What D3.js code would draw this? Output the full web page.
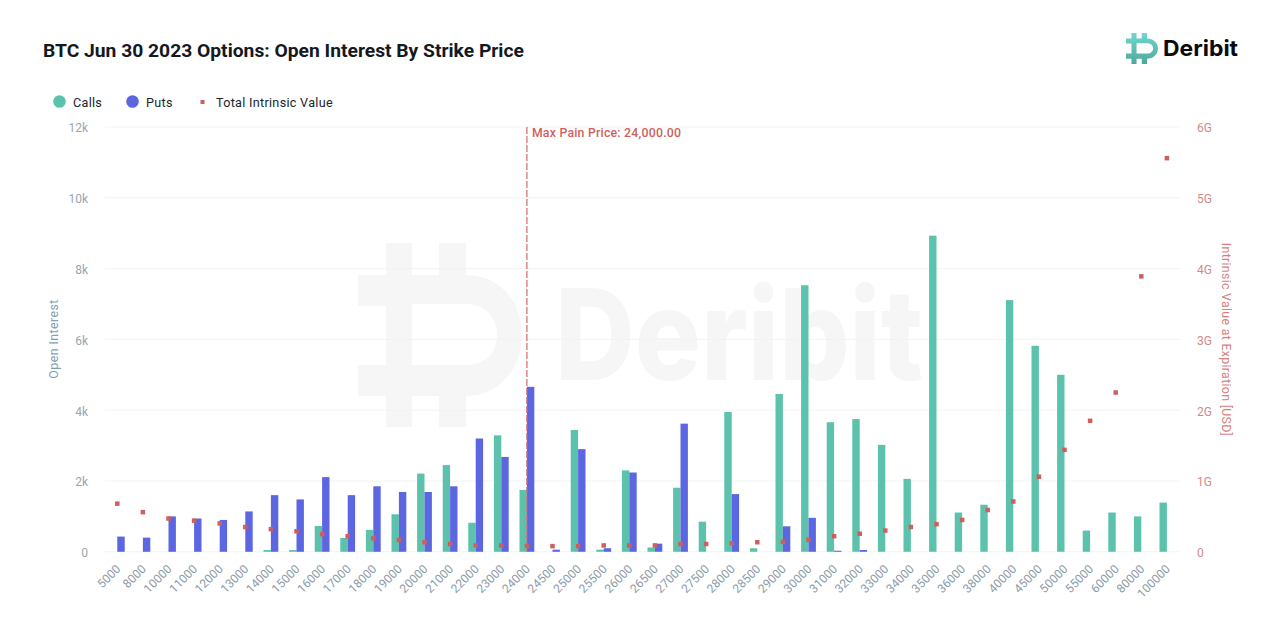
<!DOCTYPE html>
<html><head><meta charset="utf-8">
<script src="https://cdn.jsdelivr.net/npm/d3@7/dist/d3.min.js"></script>
<style>
html,body{margin:0;padding:0;background:#fff}
svg{display:block}
text{font-family:Roboto,sans-serif}
</style></head><body>
<svg id="c" width="1280" height="640"></svg>
<script>
const strikes=["5000","8000","10000","11000","12000","13000","14000","15000","16000","17000","18000","19000","20000","21000","22000","23000","24000","24500","25000","25500","26000","26500","27000","27500","28000","28500","29000","30000","31000","32000","33000","34000","35000","36000","38000","40000","45000","50000","55000","60000","80000","100000"];
const calls=[0,0,0,0,0,0,50,50,730,390,620,1060,2210,2450,820,3290,1750,0,3440,60,2300,120,1810,850,3950,100,4460,7530,3660,3750,3020,2060,8930,1110,1330,7110,5820,5000,600,1110,1000,1390];
const puts=[430,400,1000,940,900,1140,1600,1480,2110,1600,1850,1690,1690,1850,3200,2680,4660,60,2900,100,2240,230,3620,0,1630,0,720,960,30,50,0,0,0,0,0,0,0,0,0,0,0,0];
const intrinsic=[0.68,0.56,0.47,0.44,0.40,0.35,0.32,0.29,0.25,0.22,0.19,0.165,0.135,0.11,0.09,0.09,0.08,0.08,0.08,0.09,0.09,0.09,0.11,0.11,0.12,0.135,0.14,0.17,0.22,0.255,0.30,0.35,0.39,0.45,0.59,0.71,1.06,1.44,1.85,2.25,3.89,5.56];
const oiTicks=[0,2000,4000,6000,8000,10000,12000];
const ivTicks=[0,1,2,3,4,5,6];
const maxPain="24000";

const svg=d3.select("#c");
const L=104.5,R=1179.7,T=127,B=551.8;
const x=d3.scaleBand().domain(strikes).range([L,R]);
const y=d3.scaleLinear().domain([0,12000]).range([B,T]);
const y2=d3.scaleLinear().domain([0,6]).range([B,T]);
const bw=7.4;
const COL={calls:"#5cc2ab",puts:"#5b66e0",iv:"#cf5f5f"};

const defs=svg.append("defs");
const g=defs.append("linearGradient").attr("id","lg").attr("x1",0).attr("y1",0).attr("x2",0).attr("y2",1);
g.append("stop").attr("offset","0").attr("stop-color","#6fd8cf");
g.append("stop").attr("offset","1").attr("stop-color","#4fa89a");
function mark(sel,fill){
  sel.append("path").attr("fill",fill).attr("fill-rule","evenodd").attr("d",
   "M28 0h26v32h27V0h27v32c33 0 56 26 56 60s-23 61-56 61v31H81v-31H54v31H28v-31H0v-31h28V63H0V32h28z"+
   "M54 61v61h54c20 0 31-13 31-30s-11-31-31-31z");
}
const wm=svg.append("g").attr("transform","translate(358,243)");
mark(wm,"#f6f6f6");
svg.append("text").attr("x",555).attr("y",380).attr("font-size",127).attr("font-weight",800)
  .style("font-family","Inter,sans-serif")
  .attr("fill","#f6f6f6").attr("textLength",368).attr("lengthAdjust","spacingAndGlyphs").text("Deribit");

svg.append("g").selectAll("line").data(oiTicks).join("line")
  .attr("x1",L).attr("x2",R).attr("y1",d=>y(d)).attr("y2",d=>y(d))
  .attr("stroke","#f1f3f6").attr("stroke-width",1);

svg.append("g").selectAll("rect").data(strikes).join("rect")
  .attr("x",d=>x(d)+x.bandwidth()/2-bw)
  .attr("width",bw)
  .attr("y",(d,i)=>y(calls[i]))
  .attr("height",(d,i)=>B-y(calls[i]))
  .attr("fill",COL.calls);
svg.append("g").selectAll("rect").data(strikes).join("rect")
  .attr("x",d=>x(d)+x.bandwidth()/2)
  .attr("width",bw)
  .attr("y",(d,i)=>y(puts[i]))
  .attr("height",(d,i)=>B-y(puts[i]))
  .attr("fill",COL.puts);

const mx=x(maxPain)+x.bandwidth()/2;
svg.append("line").attr("x1",mx).attr("x2",mx).attr("y1",T).attr("y2",B)
  .attr("stroke","#d46a6a").attr("stroke-width",1.2).attr("stroke-dasharray","7 2");
svg.append("text").attr("x",mx+5).attr("y",137).attr("font-size",12.3).attr("font-weight",500)
  .attr("fill","#cf5f5f").attr("letter-spacing",0.22).text("Max Pain Price: 24,000.00");

svg.append("g").selectAll("rect").data(strikes).join("rect")
  .attr("x",d=>x(d)+x.bandwidth()/2-2.25)
  .attr("y",(d,i)=>y2(intrinsic[i])-2.25)
  .attr("width",4.5).attr("height",4.5)
  .attr("fill",COL.iv);

const ax=svg.append("g").attr("transform",`translate(0,${B})`)
  .call(d3.axisBottom(x).tickSize(0).tickPadding(0));
ax.select(".domain").remove();
ax.selectAll("text").attr("transform","translate(1,15) rotate(-45)")
  .attr("text-anchor","end").attr("dy","0.35em").attr("y",0).attr("x",0)
  .attr("font-size",12).attr("font-family","Roboto,sans-serif").attr("fill","#8b9ba8");

const ayl=svg.append("g").attr("transform",`translate(88,1)`)
  .call(d3.axisLeft(y).tickValues(oiTicks).tickSize(0).tickPadding(0)
    .tickFormat(d=>d===0?"0":(d/1000)+"k"));
ayl.select(".domain").remove();
ayl.selectAll("text").attr("font-size",12).attr("font-family","Roboto,sans-serif").attr("fill","#9aa5ae");

const ayr=svg.append("g").attr("transform",`translate(1197,1)`)
  .call(d3.axisRight(y2).tickValues(ivTicks).tickSize(0).tickPadding(0)
    .tickFormat(d=>d===0?"0":d+"G"));
ayr.select(".domain").remove();
ayr.selectAll("text").attr("font-size",12).attr("font-family","Roboto,sans-serif").attr("fill","#cf8a8a");

svg.append("text").attr("transform","translate(58,339) rotate(-90)").attr("text-anchor","middle")
  .attr("font-size",12.4).attr("fill","#7f9fb2").attr("letter-spacing",0.42).text("Open Interest");
svg.append("text").attr("transform","translate(1222,339.5) rotate(90)").attr("text-anchor","middle")
  .attr("font-size",12.4).attr("fill","#d87f7f").attr("letter-spacing",0.3).text("Intrinsic Value at Expiration [USD]");

svg.append("text").attr("x",43).attr("y",57.4).attr("font-size",19.25).attr("font-weight",700)
  .attr("fill","#14181f").text("BTC Jun 30 2023 Options: Open Interest By Strike Price");

const lg=svg.append("g");
lg.append("circle").attr("cx",59.5).attr("cy",101.5).attr("r",6.3).attr("fill",COL.calls);
lg.append("text").attr("x",73).attr("y",106.5).attr("font-size",12.6).attr("fill","#20252b").attr("letter-spacing",0.3).text("Calls");
lg.append("circle").attr("cx",132.5).attr("cy",101.5).attr("r",6.3).attr("fill",COL.puts);
lg.append("text").attr("x",146).attr("y",106.5).attr("font-size",12.6).attr("fill","#20252b").attr("letter-spacing",0.3).text("Puts");
lg.append("rect").attr("x",200.5).attr("y",100).attr("width",4).attr("height",4).attr("fill",COL.iv);
lg.append("text").attr("x",216).attr("y",106.5).attr("font-size",12.6).attr("fill","#20252b").attr("letter-spacing",0.3).text("Total Intrinsic Value");

const lo=svg.append("g").attr("transform","translate(1126,33) scale(0.195,0.168)");
mark(lo,"url(#lg)");
svg.append("text").attr("x",1163).attr("y",56).attr("font-size",22).attr("font-weight",700)
  .style("font-family","Inter,sans-serif")
  .attr("fill","#0a0a0a").attr("textLength",75).attr("lengthAdjust","spacingAndGlyphs").text("Deribit");
</script>
</body></html>
